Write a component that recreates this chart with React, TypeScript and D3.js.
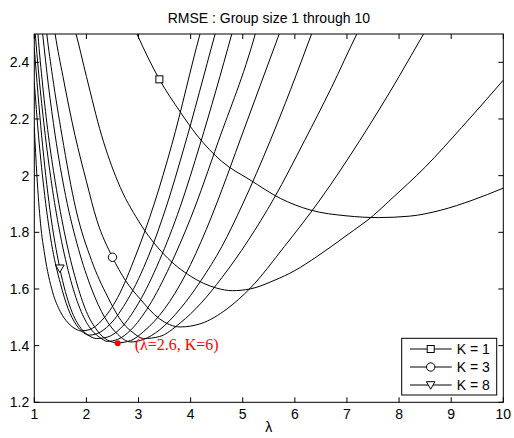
import React from "react";
import * as d3 from "d3";

const chartTitle = "RMSE : Group size 1 through 10";
const xTicks = [1, 2, 3, 4, 5, 6, 7, 8, 9, 10];
const yTicks = [1.2, 1.4, 1.6, 1.8, 2.0, 2.2, 2.4];
const yTickLabels = ["1.2", "1.4", "1.6", "1.8", "2", "2.2", "2.4"];

// [lambda, rmse], one list per group size K
const curveK1: [number, number][] = [
  [2.85, 2.55], [2.97, 2.5], [3.4, 2.34], [3.8, 2.225], [4.12, 2.143], [4.6, 2.05], [5.14, 1.985],
  [5.72, 1.92], [6.29, 1.879], [7.0, 1.858], [7.6, 1.852], [8.2, 1.857], [8.8, 1.878],
  [9.4, 1.913], [10, 1.956],
];
const curveK2: [number, number][] = [
  [1.72, 2.55], [1.8, 2.5], [2.0, 2.35], [2.29, 2.143], [2.6, 1.98], [3.0, 1.84], [3.5, 1.72],
  [4.0, 1.645], [4.5, 1.603], [4.8, 1.594], [5.14, 1.6], [5.6, 1.63], [6.0, 1.665],
  [6.42, 1.714], [7.0, 1.79], [7.51, 1.86], [7.83, 1.914], [8.5, 2.03], [9.2, 2.17], [10, 2.337],
];
const curveK3: [number, number][] = [
  [1.36, 2.55], [1.4, 2.5], [1.55, 2.35], [1.78, 2.143], [2.0, 1.98], [2.2, 1.843], [2.5, 1.712],
  [2.75, 1.63], [3.03, 1.565], [3.4, 1.495], [3.8, 1.466], [4.2, 1.478], [4.7, 1.53],
  [5.14, 1.602], [5.8, 1.75], [6.48, 1.914], [7.25, 2.125], [8.0, 2.35], [8.47, 2.5], [8.6, 2.54],
];
const curveK4: [number, number][] = [
  [1.21, 2.55], [1.24, 2.5], [1.35, 2.35], [1.53, 2.143], [1.8, 1.88], [2.1, 1.7], [2.4, 1.575],
  [2.7, 1.48], [2.9, 1.445], [3.1, 1.425], [3.4, 1.432], [3.8, 1.48], [4.2, 1.55], [4.6, 1.64],
  [5.1, 1.77], [5.6, 1.92], [6.19, 2.125], [6.7, 2.31], [7.19, 2.5], [7.3, 2.54],
];
const curveK5: [number, number][] = [
  [1.13, 2.55], [1.16, 2.5], [1.27, 2.32], [1.4, 2.143], [1.6, 1.93], [1.85, 1.74], [2.1, 1.6],
  [2.35, 1.5], [2.6, 1.44], [2.85, 1.413], [3.1, 1.422], [3.4, 1.455], [3.8, 1.53], [4.2, 1.63],
  [4.6, 1.75], [5.0, 1.9], [5.52, 2.12], [6.32, 2.5], [6.4, 2.54],
];
const curveK6: [number, number][] = [
  [1.05, 2.55], [1.07, 2.5], [1.16, 2.32], [1.27, 2.143], [1.4, 1.98], [1.6, 1.78], [1.8, 1.63],
  [2.0, 1.52], [2.2, 1.455], [2.4, 1.42], [2.6, 1.41], [2.85, 1.418], [3.1, 1.45], [3.5, 1.53],
  [3.9, 1.65], [4.3, 1.81], [4.6, 1.95], [4.95, 2.126], [5.7, 2.5], [5.8, 2.55],
];
const curveK7: [number, number][] = [
  [1.0, 2.54], [1.1, 2.33], [1.21, 2.143], [1.35, 1.95], [1.5, 1.79], [1.7, 1.63], [1.9, 1.52],
  [2.1, 1.455], [2.25, 1.43], [2.4, 1.415], [2.6, 1.422], [2.85, 1.455], [3.2, 1.54],
  [3.6, 1.68], [4.0, 1.85], [4.53, 2.12], [5.24, 2.5], [5.3, 2.54],
];
const curveK8: [number, number][] = [
  [1.0, 2.45], [1.14, 2.143], [1.3, 1.88], [1.49, 1.673], [1.7, 1.53], [1.9, 1.46], [2.05, 1.435],
  [2.2, 1.425], [2.4, 1.43], [2.65, 1.46], [3.0, 1.55], [3.4, 1.7], [3.8, 1.89], [4.18, 2.11],
  [4.79, 2.5], [4.85, 2.54],
];
const curveK9: [number, number][] = [
  [1.0, 2.33], [1.08, 2.143], [1.2, 1.93], [1.35, 1.74], [1.5, 1.62], [1.65, 1.53], [1.8, 1.475],
  [1.95, 1.445], [2.05, 1.437], [2.2, 1.442], [2.45, 1.475], [2.8, 1.565], [3.2, 1.72],
  [3.55, 1.9], [3.86, 2.09], [4.47, 2.5], [4.53, 2.54],
];
const curveK10: [number, number][] = [
  [1.0, 2.17], [1.05, 2.0], [1.12, 1.83], [1.2, 1.72], [1.35, 1.59], [1.5, 1.52], [1.65, 1.48],
  [1.8, 1.458], [1.9, 1.452], [2.05, 1.456], [2.3, 1.49], [2.6, 1.57], [2.95, 1.72], [3.3, 1.9],
  [3.64, 2.11], [4.18, 2.5], [4.24, 2.54],
];
const allCurves = [curveK1, curveK2, curveK3, curveK4, curveK5, curveK6, curveK7, curveK8, curveK9, curveK10];

const squareMarks: [number, number][] = [[3.4, 2.34]];
const circleMarks: [number, number][] = [[2.5, 1.712]];
const triangleMarks: [number, number][] = [[1.49, 1.673]];
const bestPoint: [number, number] = [2.6, 1.408];
const bestLabel = "(λ=2.6, K=6)";
const legendLabels = ["K = 1", "K = 3", "K = 8"];

const W = 514;
const H = 438;
const L = 34.3, R = 503.3, T = 34, B = 402.3;
const sans = "'Liberation Sans', Arial, Helvetica, sans-serif";

function Marker({ kind, cx, cy }: { kind: string; cx: number; cy: number }) {
  if (kind === "square") {
    return <rect x={cx - 3.5} y={cy - 3.5} width={7} height={7} fill="#fff" stroke="#000" strokeWidth={1} />;
  }
  if (kind === "circle") {
    return <circle cx={cx} cy={cy} r={4.2} fill="#fff" stroke="#000" strokeWidth={1} />;
  }
  return (
    <path d={`M${cx - 4.3},${cy - 3.3}L${cx + 4.3},${cy - 3.3}L${cx},${cy + 4.2}Z`} fill="#fff" stroke="#000" strokeWidth={1} />
  );
}

export default function App() {
  const x = d3.scaleLinear().domain([1, 10]).range([L, R]);
  const y = d3.scaleLinear().domain([1.2, 2.5]).range([B, T]);
  const line = d3
    .line<[number, number]>()
    .x((d) => x(d[0]))
    .y((d) => y(d[1]))
    .curve(d3.curveMonotoneX);

  const legX = 401.7, legY = 338.3, legW = 95, legH = 56.7;
  const kinds = ["square", "circle", "triangle"];

  return (
    <svg width={W} height={H} style={{ position: "absolute", left: 0, top: 0, background: "#fff" }}>
      <defs>
        <clipPath id="plotClip">
          <rect x={L} y={T} width={R - L} height={B - T} />
        </clipPath>
      </defs>
      <rect x={0} y={0} width={W} height={H} fill="#fff" />
      <text x={(L + R) / 2} y={23} textAnchor="middle" fontFamily={sans} fontSize={14} fill="#000">
        {chartTitle}
      </text>
      <g clipPath="url(#plotClip)">
        {allCurves.map((c, i) => (
          <path key={i} d={line(c) || ""} fill="none" stroke="#000" strokeWidth={1} />
        ))}
      </g>
      {squareMarks.map((d, i) => <Marker key={"s" + i} kind="square" cx={x(d[0])} cy={y(d[1])} />)}
      {circleMarks.map((d, i) => <Marker key={"c" + i} kind="circle" cx={x(d[0])} cy={y(d[1])} />)}
      {triangleMarks.map((d, i) => <Marker key={"t" + i} kind="triangle" cx={x(d[0])} cy={y(d[1])} />)}
      <circle cx={x(bestPoint[0])} cy={y(bestPoint[1])} r={3} fill="#f00" />
      <text x={x(bestPoint[0]) + 17} y={y(bestPoint[1]) + 7} fontFamily="'Liberation Serif', 'Times New Roman', serif" fontSize={16} fill="#f00">
        {bestLabel}
      </text>
      <rect x={L} y={T} width={R - L} height={B - T} fill="none" stroke="#000" strokeWidth={1} />
      {xTicks.map((t) => (
        <g key={"xt" + t}>
          <line x1={x(t)} x2={x(t)} y1={B} y2={B - 5} stroke="#000" />
          <line x1={x(t)} x2={x(t)} y1={T} y2={T + 5} stroke="#000" />
          <text x={x(t)} y={B + 17} textAnchor="middle" fontFamily={sans} fontSize={14} fill="#000">
            {String(t)}
          </text>
        </g>
      ))}
      {yTicks.map((t, i) => (
        <g key={"yt" + t}>
          <line x1={L} x2={L + 5} y1={y(t)} y2={y(t)} stroke="#000" />
          <line x1={R} x2={R - 5} y1={y(t)} y2={y(t)} stroke="#000" />
          <text x={L - 5} y={y(t) + 5} textAnchor="end" fontFamily={sans} fontSize={14} fill="#000">
            {yTickLabels[i]}
          </text>
        </g>
      ))}
      <text x={(L + R) / 2} y={432} textAnchor="middle" fontFamily={sans} fontSize={14} fill="#000">
        λ
      </text>
      <rect x={legX} y={legY} width={legW} height={legH} fill="#fff" stroke="#000" strokeWidth={1} />
      {legendLabels.map((lab, i) => {
        const ly = 349 + i * 18;
        return (
          <g key={lab}>
            <line x1={410} x2={451.7} y1={ly} y2={ly} stroke="#000" />
            <Marker kind={kinds[i]} cx={430.7} cy={ly} />
            <text x={456.7} y={ly + 5} fontFamily={sans} fontSize={14} fill="#000">
              {lab}
            </text>
          </g>
        );
      })}
    </svg>
  );
}
